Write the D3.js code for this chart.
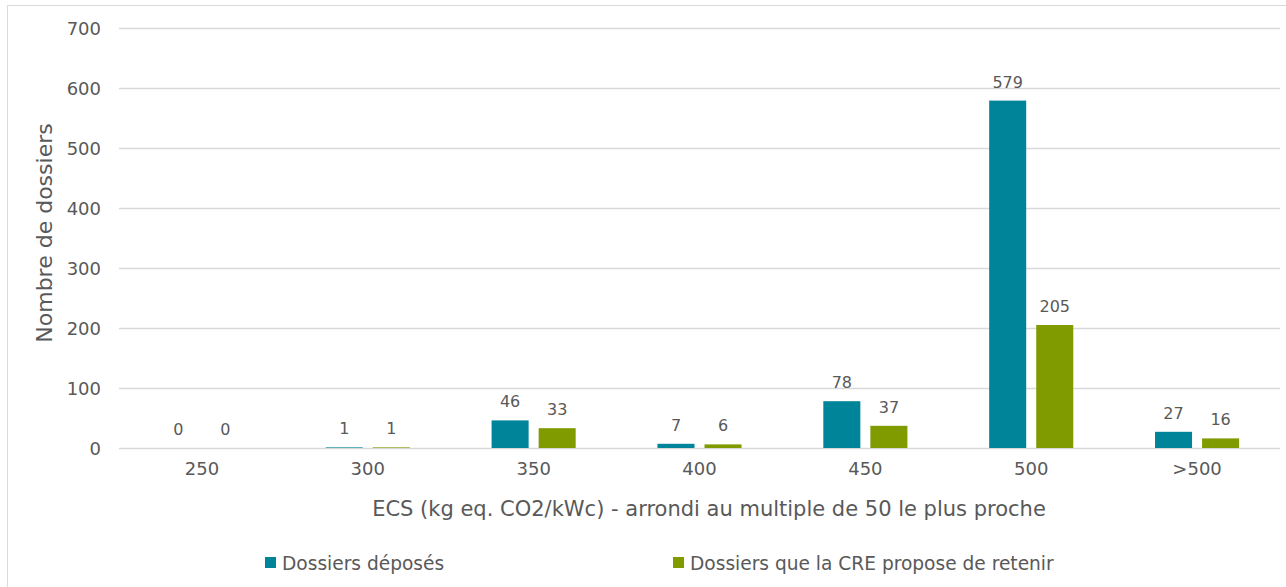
<!DOCTYPE html>
<html><head><meta charset="utf-8">
<script src="https://cdn.jsdelivr.net/npm/d3@7"></script>
<style>
html,body{margin:0;padding:0;background:#fff;}
svg{display:block;font-family:"DejaVu Sans",Verdana,sans-serif;}
</style></head>
<body>
<svg id="c" width="1286" height="587"></svg>
<script>
const categories = ["250","300","350","400","450","500",">500"];
const seriesNames = ["Dossiers déposés","Dossiers que la CRE propose de retenir"];
const deposes = [0,1,46,7,78,579,27];
const retenus = [0,1,33,6,37,205,16];
const yTicks = [0,100,200,300,400,500,600,700];
const colors = ["#00849A","#7F9B00"];
const seriesValues = [deposes, retenus];

(function(){
const svg = d3.select("#c");
const txt = "#595959";
const ff = "DejaVu Sans, Verdana, sans-serif";

svg.append("rect").attr("x",7.5).attr("y",5.5).attr("width",1290).attr("height",600)
  .attr("fill","none").attr("stroke","#d9d9d9").attr("stroke-width",1);

const pL=119, pR=1280, pT=28, pB=448;
const x0 = d3.scaleBand().domain(categories).range([pL,pR]).paddingInner(0.493).paddingOuter(0.2465);
const x1 = d3.scaleBand().domain([0,1]).range([0,x0.bandwidth()]).paddingInner(0.213);
const y = d3.scaleLinear().domain([0,700]).range([pB,pT]);

svg.append("g").selectAll("line").data(yTicks).join("line")
  .attr("x1",pL).attr("x2",pR)
  .attr("y1",d=>Math.round(y(d))+0.5).attr("y2",d=>Math.round(y(d))+0.5)
  .attr("stroke","#d9d9d9").attr("stroke-width",1.5);

const yAxis = d3.axisLeft(y).tickValues(yTicks).tickSize(0).tickPadding(0);
const ga = svg.append("g").attr("transform",`translate(${pL-18},0)`).call(yAxis);
ga.select(".domain").remove();
ga.selectAll("text").attr("fill",txt).attr("font-size",18).attr("font-family",ff).attr("dy","0.35em");

const xAxis = d3.axisBottom(x0).tickSize(0).tickPadding(0);
const gx = svg.append("g").attr("transform",`translate(0,${pB+13})`).call(xAxis);
gx.select(".domain").remove();
gx.selectAll("text").attr("fill",txt).attr("font-size",18).attr("font-family",ff).attr("dy","0.75em");

const groups = svg.append("g").selectAll("g").data(categories).join("g")
  .attr("transform",d=>`translate(${x0(d)},0)`);
groups.selectAll("rect").data((d,i)=>seriesValues.map((s,k)=>({k,v:s[i]}))).join("rect")
  .attr("x",d=>x1(d.k)).attr("width",x1.bandwidth())
  .attr("y",d=>y(d.v)).attr("height",d=>pB-y(d.v))
  .attr("fill",d=>colors[d.k]);
groups.selectAll("text").data((d,i)=>seriesValues.map((s,k)=>({k,v:s[i]}))).join("text")
  .attr("x",d=>x1(d.k)+x1.bandwidth()/2).attr("y",d=>y(d.v)-13)
  .attr("text-anchor","middle").attr("fill",txt).attr("font-size",16)
  .text(d=>d.v);

svg.append("text").attr("transform",`translate(52,233) rotate(-90)`)
  .attr("text-anchor","middle").attr("fill",txt).attr("font-size",22)
  .text("Nombre de dossiers");
svg.append("text").attr("x",709).attr("y",516)
  .attr("text-anchor","middle").attr("fill",txt).attr("font-size",21)
  .text("ECS (kg eq. CO2/kWc) - arrondi au multiple de 50 le plus proche");

const legX = [265, 673];
const lg = svg.append("g").selectAll("g").data(seriesNames).join("g")
  .attr("transform",(d,i)=>`translate(${legX[i]},563)`);
lg.append("rect").attr("x",0).attr("y",-6).attr("width",11).attr("height",11).attr("fill",(d,i)=>colors[i]);
lg.append("text").attr("x",17).attr("y",0).attr("dy","0.35em").attr("fill",txt).attr("font-size",18.6).text(d=>d);
})();
</script>
</body></html>
